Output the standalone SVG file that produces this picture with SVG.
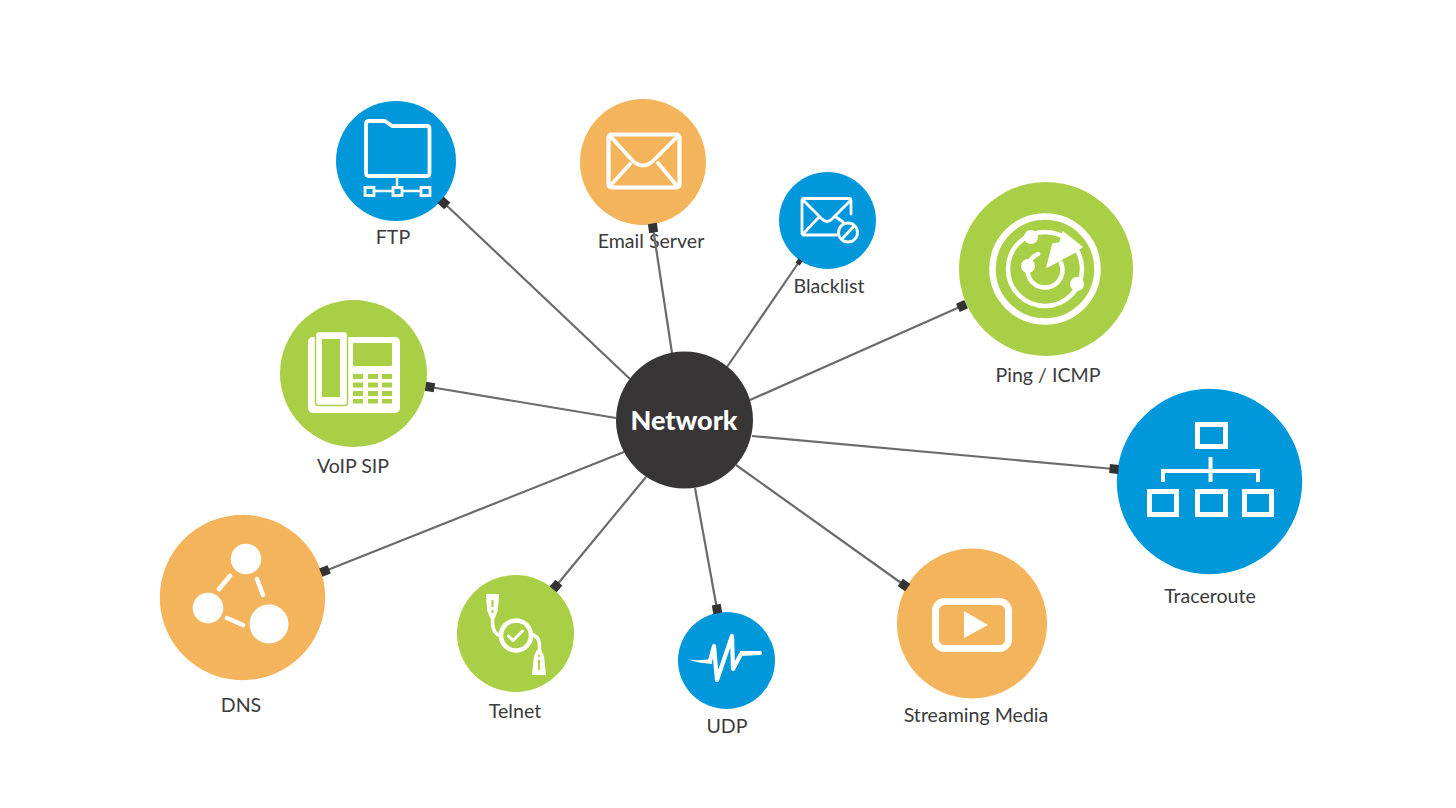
<svg xmlns="http://www.w3.org/2000/svg" width="1456" height="808" viewBox="0 0 1456 808">
<style>
.blue{fill:#0097db}.orange{fill:#f3b45b}.green{fill:#a8cf45}.hub{fill:#383536}
.lab{font-family:Lato,"Open Sans",sans-serif;font-size:19.600px;fill:#3b3a3c;text-anchor:middle}
.hubt{font-family:Lato,"Open Sans",sans-serif;font-size:27px;font-weight:900;fill:#fff;text-anchor:middle}
.w{fill:#fff}.o{fill:none;stroke:#fff;stroke-linejoin:round;stroke-linecap:round}
.k{fill:#a8cf45}
.c{stroke:#6b6b6b;stroke-width:2.2;fill:none;marker-end:url(#sq)}
.cs{marker-end:url(#sqs)}
</style>
<defs>
<marker id="sq" markerUnits="userSpaceOnUse" markerWidth="10" markerHeight="10" refX="5" refY="5" orient="auto"><rect x="0.5" y="0.5" width="9" height="9" fill="#333"/></marker>
<marker id="sqs" markerUnits="userSpaceOnUse" markerWidth="6" markerHeight="6" refX="3" refY="3" orient="auto"><rect x="0.5" y="0.5" width="5" height="5" fill="#333"/></marker>
</defs>

<g id="node-ftp"><circle class="blue" cx="396" cy="161" r="60"/>
<path class="o" stroke-width="3.800" d="M366,124Q366,121 369,121H385L392,126H427Q429.500,126 429.500,129V173Q429.500,176 427,176H369Q366,176 366,173Z"/>
<path class="o" stroke-width="2.400" d="M397,177V187M374,191H393M402,191H421"/>
<g fill="none" stroke="#fff" stroke-width="2.800"><rect x="365" y="187.500" width="9" height="8"/><rect x="393" y="187.500" width="9" height="8"/><rect x="421" y="187.500" width="9" height="8"/></g>
<text class="lab" x="393" y="244">FTP</text></g>

<g id="node-email"><circle class="orange" cx="643" cy="162" r="63"/>
<rect class="o" stroke-width="4.200" x="608.500" y="134.500" width="71" height="53" rx="3"/>
<path class="o" stroke-width="3.800" d="M611,137L632,160Q643,171 654,160L677,137M610,186L630,164M677,186L658,163"/>
<text class="lab" x="651" y="248">Email Server</text></g>

<g id="node-blacklist"><circle class="blue" cx="827.500" cy="220.500" r="48.500"/>
<path class="o" stroke-width="2.800" d="M851,214V200.500Q851,198.500 849,198.500H804Q802,198.500 802,200.500V233Q802,235 804,235H837"/>
<path class="o" stroke-width="2.800" d="M804,201L822,219Q827,224 832,219L850,201M804,233L819,217M836,217L843,222"/>
<circle cx="848" cy="232.500" r="9.500" fill="none" stroke="#fff" stroke-width="2.800"/>
<path class="o" stroke-width="2.800" d="M842,239L854,226"/>
<text class="lab" x="829" y="293">Blacklist</text></g>

<g id="node-ping"><circle class="green" cx="1046" cy="269" r="87"/>
<circle cx="1045" cy="269" r="52.500" fill="none" stroke="#fff" stroke-width="6.500"/>
<circle cx="1045" cy="269" r="37" fill="none" stroke="#fff" stroke-width="4.500"/>
<path class="o" stroke-width="4.500" d="M1038,254A17.500,17.500 0 1 0 1061,263"/>
<circle class="w" cx="1031" cy="237" r="7"/><circle class="w" cx="1028" cy="266" r="7"/><circle class="w" cx="1077" cy="284" r="7"/>
<polygon class="w" stroke="#fff" stroke-width="1.500" stroke-linejoin="round" points="1047,267 1053,244 1060,243 1063,232 1082,247 1075,252"/>
<text class="lab" x="1048" y="382">Ping / ICMP</text></g>

<g id="node-voip"><circle class="green" cx="353.500" cy="373.500" r="73.500"/>
<rect class="w" x="308" y="337" width="92" height="76" rx="5"/>
<rect class="w" x="315.500" y="331.500" width="32" height="74" rx="3" stroke="#a8cf45" stroke-width="1.400"/>
<rect class="k" x="322" y="339" width="18" height="58"/>
<rect class="k" x="353" y="343" width="39" height="23" rx="1"/>
<g class="k"><rect x="353" y="374" width="10" height="5"/><rect x="368" y="374" width="10" height="5"/><rect x="382" y="374" width="10" height="5"/>
<rect x="353" y="382.500" width="10" height="5"/><rect x="368" y="382.500" width="10" height="5"/><rect x="382" y="382.500" width="10" height="5"/>
<rect x="353" y="391" width="10" height="5"/><rect x="368" y="391" width="10" height="5"/><rect x="382" y="391" width="10" height="5"/>
<rect x="353" y="399" width="10" height="4.500"/><rect x="368" y="399" width="10" height="4.500"/><rect x="382" y="399" width="10" height="4.500"/></g>
<text class="lab" x="353" y="473">VoIP SIP</text></g>

<g id="node-dns"><circle class="orange" cx="242.500" cy="597.500" r="82.700"/>
<circle class="w" cx="246" cy="559" r="15.300"/><circle class="w" cx="208" cy="608" r="15.300"/><circle class="w" cx="269" cy="624" r="19.500"/>
<path class="o" stroke-width="4.500" d="M230,576L219,589M257,579L263,595M227,618L243,625"/>
<text class="lab" x="241" y="712">DNS</text></g>

<g id="node-telnet"><circle class="green" cx="515.500" cy="633.500" r="58.500"/>
<circle cx="516" cy="635.500" r="15" fill="none" stroke="#fff" stroke-width="4.500"/>
<path class="o" stroke-width="3" d="M508.500,636L513,640.500L522.500,631"/>
<path class="o" stroke-width="3.500" d="M492.500,616V623Q493,634 501,636M531,634Q539,636 539.500,645V651"/>
<path class="w" d="M486,594H499L498,610L495,618H490L487,610Z"/>
<path class="k" d="M491.500,600H493.500V607H491.500ZM491.500,610H493.500V613H491.500Z"/>
<path class="w" d="M537,650H541L544,656L546,675H532L534,656Z"/>
<path class="k" d="M538,660H540V670H538ZM538,655H540V657H538Z"/>
<text class="lab" x="515" y="718">Telnet</text></g>

<g id="node-udp"><circle class="blue" cx="726.500" cy="660.500" r="48.500"/>
<path class="o" stroke-width="4.200" d="M710,661L714,646L717,680L732,636L733,669L741,654"/>
<path class="w" d="M688,659.500Q700,661 712,659L712,664Q698,663 688,659.500ZM740,651L761,651Q763,653 761,655L740,656Z"/>
<text class="lab" x="727" y="733">UDP</text></g>

<g id="node-streaming"><circle class="orange" cx="972" cy="623.500" r="75"/>
<rect x="935.500" y="601.500" width="73" height="47" rx="9" fill="none" stroke="#fff" stroke-width="7"/>
<polygon class="w" points="964,611 988,625 964,638"/>
<text class="lab" x="976" y="722">Streaming Media</text></g>

<g id="node-traceroute"><circle class="blue" cx="1209.500" cy="481.500" r="92.700"/>
<g fill="none" stroke="#fff" stroke-width="5"><rect x="1197.500" y="424.500" width="28" height="22"/><rect x="1149.500" y="491.500" width="27" height="23"/><rect x="1197.500" y="491.500" width="28" height="23"/><rect x="1244.500" y="491.500" width="27" height="23"/></g>
<path d="M1210.500,457V482M1163,482V471H1258V482" fill="none" stroke="#fff" stroke-width="4"/>
<text class="lab" x="1210" y="603">Traceroute</text></g>

<g id="connectors">
<line class="c" x1="630" y1="379" x2="444" y2="203"/>
<line class="c" x1="672" y1="353" x2="653" y2="228"/>
<line class="c cs" x1="727" y1="367" x2="799" y2="262"/>
<line class="c" x1="750" y1="400" x2="962" y2="306"/>
<line class="c" x1="752" y1="436" x2="1114" y2="469"/>
<line class="c" x1="736" y1="465" x2="904" y2="585"/>
<line class="c" x1="695" y1="488" x2="717" y2="609"/>
<line class="c" x1="646" y1="477" x2="556" y2="586"/>
<line class="c" x1="624" y1="452" x2="325" y2="571"/>
<line class="c" x1="616" y1="418" x2="430" y2="387"/>
</g>

<g id="node-network"><circle class="hub" cx="684.500" cy="420" r="68.500"/>
<text class="hubt" x="684" y="430">Network</text></g>
</svg>
